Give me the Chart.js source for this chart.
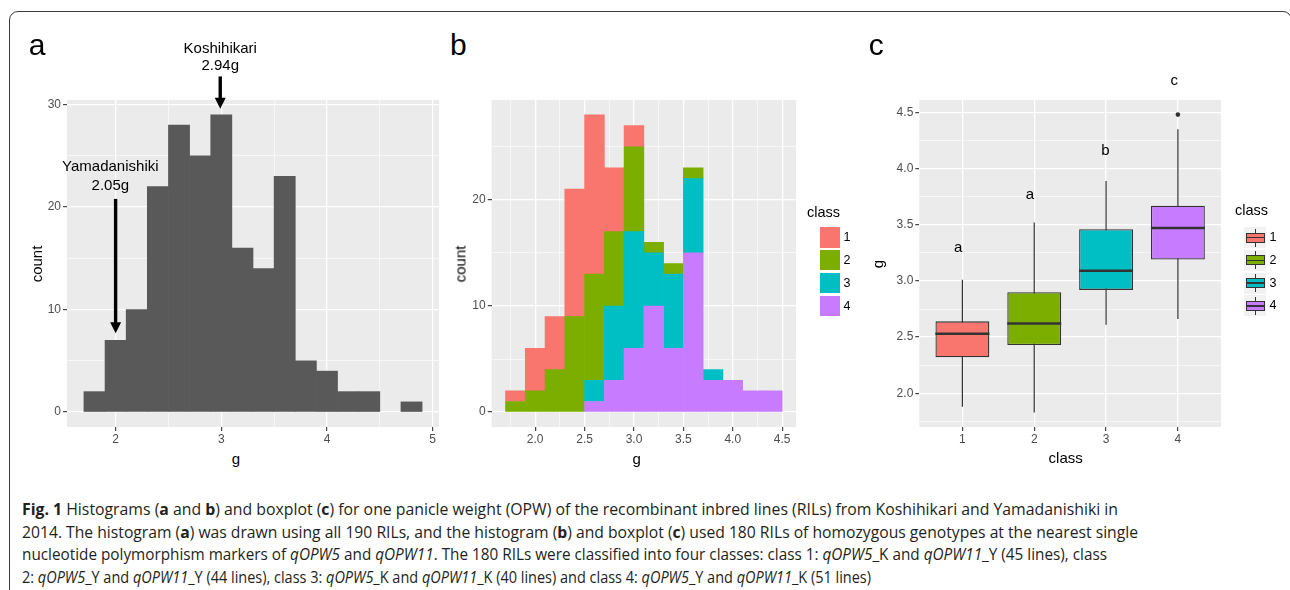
<!DOCTYPE html>
<html lang="en">
<head>
<meta charset="UTF-8">
<title>Fig. 1 OPW histograms and boxplot</title>
<script src="https://cdn.jsdelivr.net/npm/chart.js"></script>
<style>
  body { margin: 0; width: 1290px; height: 590px; overflow: hidden; position: relative; background: #fff;
         font-family: "Liberation Sans", Arial, sans-serif; }
  .frame { position: absolute; left: 9px; top: 11px; width: 1283px; height: 600px; box-sizing: border-box;
           border: 1.5px solid #3c3c3c; border-radius: 9px; }
  canvas { position: absolute; }
  .t { position: absolute; white-space: nowrap; color: #000; line-height: 1; }
  .cap { position: absolute; left: 22px; white-space: nowrap; font-family: "Open Sans", sans-serif;
         font-size: 16.5px; line-height: 22.4px; color: #231f20; transform-origin: 0 0; }
  .key { position: absolute; }
</style>
</head>
<body>
<div class="frame"></div>
<script>
// ---- data ----
// panel a: all 190 RILs, bins of 0.2 g
const binsA = [1.8, 2.0, 2.2, 2.4, 2.6, 2.8, 3.0, 3.2, 3.4, 3.6, 3.8, 4.0, 4.2, 4.4, 4.6, 4.8];
const countA = [2, 7, 10, 22, 28, 25, 29, 16, 14, 23, 5, 4, 2, 2, 0, 1];

// panel b: 180 RILs split by class
const binsB = [1.8, 2.0, 2.2, 2.4, 2.6, 2.8, 3.0, 3.2, 3.4, 3.6, 3.8, 4.0, 4.2, 4.4];
const class1 = [1, 4, 5, 12, 15, 6, 2, 0, 0, 0, 0, 0, 0, 0];
const class2 = [1, 2, 4, 9, 10, 7, 8, 1, 1, 1, 0, 0, 0, 0];
const class3 = [0, 0, 0, 0, 2, 7, 11, 5, 7, 7, 1, 0, 0, 0];
const class4 = [0, 0, 0, 0, 1, 3, 6, 10, 6, 15, 3, 3, 2, 2];

const classes = [1, 2, 3, 4];
const classColors = ['#F8766D', '#7CAE00', '#00BFC4', '#C77CFF'];

// panel c: boxplot stats per class
const whiskLow = [1.88, 1.83, 2.61, 2.66];
const boxQ1 = [2.32, 2.43, 2.92, 3.19];
const boxMed = [2.53, 2.62, 3.09, 3.47];
const boxQ3 = [2.64, 2.90, 3.46, 3.67];
const whiskHigh = [3.01, 3.52, 3.89, 4.35];
const outClass = [4];
const outValue = [4.48];
const sigLetters = ['a', 'a', 'b', 'c'];
const sigX = [0.94, 1.94, 2.99, 3.95];
const sigY = [3.29, 3.77, 4.16, 4.78];

// tick values
const xMajA = [2, 3, 4, 5], xMinA = [2.5, 3.5, 4.5];
const yMajA = [0, 10, 20, 30], yMinA = [5, 15, 25];
const xMajB = [2.0, 2.5, 3.0, 3.5, 4.0, 4.5], xMinB = [1.75, 2.25, 2.75, 3.25, 3.75, 4.25];
const yMajB = [0, 10, 20], yMinB = [5, 15, 25];
const xMajC = [1, 2, 3, 4], xMinC = [];
const yMajC = [2.0, 2.5, 3.0, 3.5, 4.0, 4.5], yMinC = [1.75, 2.25, 2.75, 3.25, 3.75, 4.25];

// parent arrows in panel a (data units)
const notes = [
  { lines: ['Yamadanishiki', '2.05g'], tx: 1.95, ty: [23.5, 21.7], ax: 2.0, from: 20.8, to: 7.7 },
  { lines: ['Koshihikari', '2.94g'], tx: 2.99, ty: [35.06, 33.36], ax: 2.99, from: 32.75, to: 29.6 }
];

const captionLines = [
  '<b>Fig. 1</b> Histograms (<b>a</b> and <b>b</b>) and boxplot (<b>c</b>) for one panicle weight (OPW) of the recombinant inbred lines (RILs) from Koshihikari and Yamadanishiki in',
  '2014. The histogram (<b>a</b>) was drawn using all 190 RILs, and the histogram (<b>b</b>) and boxplot (<b>c</b>) used 180 RILs of homozygous genotypes at the nearest single',
  'nucleotide polymorphism markers of <i>qOPW5</i> and <i>qOPW11</i>. The 180 RILs were classified into four classes: class 1: <i>qOPW5</i>_K and <i>qOPW11</i>_Y (45 lines), class',
  '2: <i>qOPW5</i>_Y and <i>qOPW11</i>_Y (44 lines), class 3: <i>qOPW5</i>_K and <i>qOPW11</i>_K (40 lines) and class 4: <i>qOPW5</i>_Y and <i>qOPW11</i>_K (51 lines)'
];
const captionEnds = [1118, 1138, 1107, 871];

// ---- helpers ----
Chart.defaults.font.family = '"Liberation Sans", Arial, sans-serif';

function put(html, x, base, size, align) {
  const d = document.createElement('div');
  d.className = 't';
  d.innerHTML = html;
  d.style.fontSize = size + 'px';
  d.style.left = x + 'px';
  d.style.top = (base - 0.8465 * size) + 'px';
  if (align === 'center') d.style.transform = 'translateX(-50%)';
  document.body.appendChild(d);
  return d;
}
function putV(text, cx, cy, size) {
  const d = document.createElement('div');
  d.className = 't';
  d.textContent = text;
  d.style.fontSize = size + 'px';
  d.style.left = cx + 'px';
  d.style.top = cy + 'px';
  d.style.transform = 'translate(-50%,-50%) rotate(-90deg)';
  document.body.appendChild(d);
}
function box(left, top, w, h, css) {
  const d = document.createElement('div');
  d.className = 'key';
  Object.assign(d.style, { left: left + 'px', top: top + 'px', width: w + 'px', height: h + 'px' }, css);
  document.body.appendChild(d);
  return d;
}
function makeCanvas(left, top, w, h) {
  const c = document.createElement('canvas');
  c.width = w; c.height = h;
  Object.assign(c.style, { left: left + 'px', top: top + 'px', width: w + 'px', height: h + 'px' });
  document.body.appendChild(c);
  return c;
}
// empty bins draw nothing
const skipZero = v => (v === 0 ? null : v);

function axis(min, max, majors, minors, digits, size, pad, stacked) {
  const all = majors.concat(minors).sort((a, b) => a - b);
  const isMaj = c => c.tick && majors.includes(c.tick.value);
  return {
    type: 'linear', min, max, bounds: 'data', offset: false, stacked: !!stacked,
    afterBuildTicks: s => { s.ticks = all.map(v => ({ value: v })); },
    afterFit: s => { if (s.isHorizontal()) s.height = size; else s.width = size; },
    border: { display: false },
    grid: {
      offset: false,
      color: '#FFFFFF',
      lineWidth: c => isMaj(c) ? 1.3 : 0.6,
      tickColor: c => isMaj(c) ? '#333333' : 'rgba(0,0,0,0)',
      tickLength: 4, tickWidth: 1.1
    },
    ticks: {
      autoSkip: false, maxRotation: 0, minRotation: 0, padding: pad,
      color: '#4D4D4D', font: { size: 12 },
      callback: v => majors.includes(v) ? v.toFixed(digits) : ''
    }
  };
}

function baseOptions(top, right, scales) {
  return {
    responsive: false, animation: false, events: [],
    layout: { padding: { top, right, left: 0, bottom: 0 } },
    plugins: { legend: { display: false }, tooltip: { enabled: false } },
    scales
  };
}

const panelBg = {
  id: 'panelBg',
  beforeDraw(chart) {
    const { ctx, chartArea: a } = chart;
    ctx.save();
    ctx.fillStyle = '#EBEBEB';
    ctx.fillRect(a.left, a.top, a.right - a.left, a.bottom - a.top);
    ctx.restore();
  }
};

const arrowNotes = {
  id: 'arrowNotes',
  afterDatasetsDraw(chart) {
    const { ctx, scales: { x, y } } = chart;
    ctx.save();
    ctx.fillStyle = '#000';
    ctx.strokeStyle = '#000';
    ctx.font = '15px "Liberation Sans"';
    ctx.textAlign = 'center';
    ctx.textBaseline = 'alphabetic';
    notes.forEach(n => {
      n.lines.forEach((s, i) => ctx.fillText(s, x.getPixelForValue(n.tx), y.getPixelForValue(n.ty[i])));
      const ax = x.getPixelForValue(n.ax);
      const y0 = y.getPixelForValue(n.from), y1 = y.getPixelForValue(n.to);
      ctx.lineWidth = 3.4;
      ctx.beginPath(); ctx.moveTo(ax, y0); ctx.lineTo(ax, y1 - 9); ctx.stroke();
      ctx.beginPath(); ctx.moveTo(ax, y1); ctx.lineTo(ax - 5.5, y1 - 11); ctx.lineTo(ax + 5.5, y1 - 11);
      ctx.closePath(); ctx.fill();
    });
    ctx.restore();
  }
};

const sigMarks = {
  id: 'sigMarks',
  afterDatasetsDraw(chart) {
    const { ctx, scales: { x, y } } = chart;
    ctx.save();
    ctx.fillStyle = '#000';
    ctx.font = '15px "Liberation Sans"';
    ctx.textAlign = 'center';
    ctx.textBaseline = 'middle';
    sigLetters.forEach((s, i) => ctx.fillText(s, x.getPixelForValue(sigX[i]), y.getPixelForValue(sigY[i])));
    ctx.restore();
  }
};

// ---- panel a ----
new Chart(makeCanvas(30, 30, 420, 420), {
  type: 'bar',
  data: {
    datasets: [{
      data: binsA.map((g, i) => ({ x: g, y: skipZero(countA[i]) })),
      backgroundColor: '#595959', barPercentage: 1, categoryPercentage: 1
    }]
  },
  options: baseOptions(70, 11, {
    x: axis(1.54, 5.06, xMajA, xMinA, 0, 23, 1),
    y: axis(-1.45, 30.45, yMajA, yMinA, 0, 37, 2)
  }),
  plugins: [panelBg, arrowNotes]
});

// ---- panel b ----
const stackOrder = [class4, class3, class2, class1];
const stackColors = [classColors[3], classColors[2], classColors[1], classColors[0]];
new Chart(makeCanvas(440, 90, 420, 380), {
  type: 'bar',
  data: {
    datasets: stackOrder.map((vals, k) => ({
      label: String(4 - k),
      data: binsB.map((g, i) => ({ x: g, y: skipZero(vals[i]) })),
      backgroundColor: stackColors[k], barPercentage: 1, categoryPercentage: 1
    }))
  },
  options: baseOptions(10, 64, {
    x: axis(1.56, 4.64, xMajB, xMinB, 1, 43, 1, true),
    y: axis(-1.4, 29.4, yMajB, yMinB, 0, 51.7, 2, true)
  }),
  plugins: [panelBg]
});

// ---- panel c ----
new Chart(makeCanvas(860, 30, 430, 440), {
  type: 'bar',
  data: {
    datasets: [
      {
        type: 'line', order: 0, showLine: false,
        data: classes.map((c, i) => ({ x: c, y: boxMed[i] })),
        pointStyle: 'line', pointRadius: 27, pointBorderWidth: 2.5, pointBorderColor: '#333333'
      },
      {
        type: 'line', order: 0, showLine: false,
        data: outClass.map((c, i) => ({ x: c, y: outValue[i] })),
        pointStyle: 'circle', pointRadius: 2.3, pointBorderWidth: 0, pointBackgroundColor: '#333333'
      },
      {
        order: 1, grouped: false,
        data: classes.map((c, i) => ({ x: c, y: [boxQ1[i], boxQ3[i]] })),
        backgroundColor: classColors, borderColor: '#333333', borderWidth: 1.3, borderSkipped: false,
        barPercentage: 0.75, categoryPercentage: 1
      },
      {
        order: 2, grouped: false,
        data: classes.map((c, i) => ({ x: c, y: [whiskLow[i], whiskHigh[i]] })),
        backgroundColor: '#333333', maxBarThickness: 1.2, inflateAmount: 0,
        barPercentage: 1, categoryPercentage: 1
      }
    ]
  },
  options: baseOptions(70, 69, {
    x: axis(0.4, 4.6, xMajC, xMinC, 0, 43, 1),
    y: axis(1.70, 4.61, yMajC, yMinC, 1, 59.3, 2)
  }),
  plugins: [panelBg, sigMarks]
});

// ---- panel letters, axis titles ----
put('a', 28.8, 55, 30);
put('b', 450, 55, 30);
put('c', 868.8, 55, 30);

putV('count', 35.5, 263.5, 15);
putV('count', 459.8, 263.5, 15);
putV('g', 876.6, 263.5, 15);
put('g', 236, 463.5, 15, 'center');
put('g', 636.7, 463.5, 15, 'center');
put('class', 1065.7, 462.3, 15, 'center');

// ---- legends ----
put('class', 807, 217.3, 14.5);
put('class', 1235, 215.7, 14.5);
classes.forEach((c, i) => {
  const cy = 237.5 + i * 22.8;
  // panel b: filled keys
  box(820, cy - 10.2, 20.4, 20.4, { background: classColors[i] });
  const lb = box(843.5, cy - 10.2, 12, 20.4, { fontSize: '12.5px', lineHeight: '20.4px', color: '#000' });
  lb.textContent = c;
  // panel c: boxplot keys
  box(1244, cy - 10.5, 22, 21, { background: '#F2F2F2' });
  box(1254.5, cy - 9, 1, 18, { background: '#333333' });
  box(1245.5, cy - 5, 19, 10, { background: classColors[i], border: '1px solid #333333', boxSizing: 'border-box' });
  box(1245.5, cy - 0.75, 19, 1.5, { background: '#333333' });
  const lc = box(1269.5, cy - 10.5, 12, 21, { fontSize: '12.5px', lineHeight: '21px', color: '#000' });
  lc.textContent = c;
});

// ---- caption ----
const capEls = captionLines.map((html, i) => {
  const d = document.createElement('div');
  d.className = 'cap';
  d.innerHTML = html;
  d.style.top = (498.4 + i * 22.4) + 'px';
  document.body.appendChild(d);
  return d;
});
function fitCaption() {
  capEls.forEach((d, i) => {
    d.style.transform = 'none';
    const w = d.getBoundingClientRect().width;
    d.style.transform = 'scaleX(' + ((captionEnds[i] - 22) / w) + ')';
  });
}
fitCaption();
if (document.fonts) document.fonts.ready.then(fitCaption);
</script>
</body>
</html>
